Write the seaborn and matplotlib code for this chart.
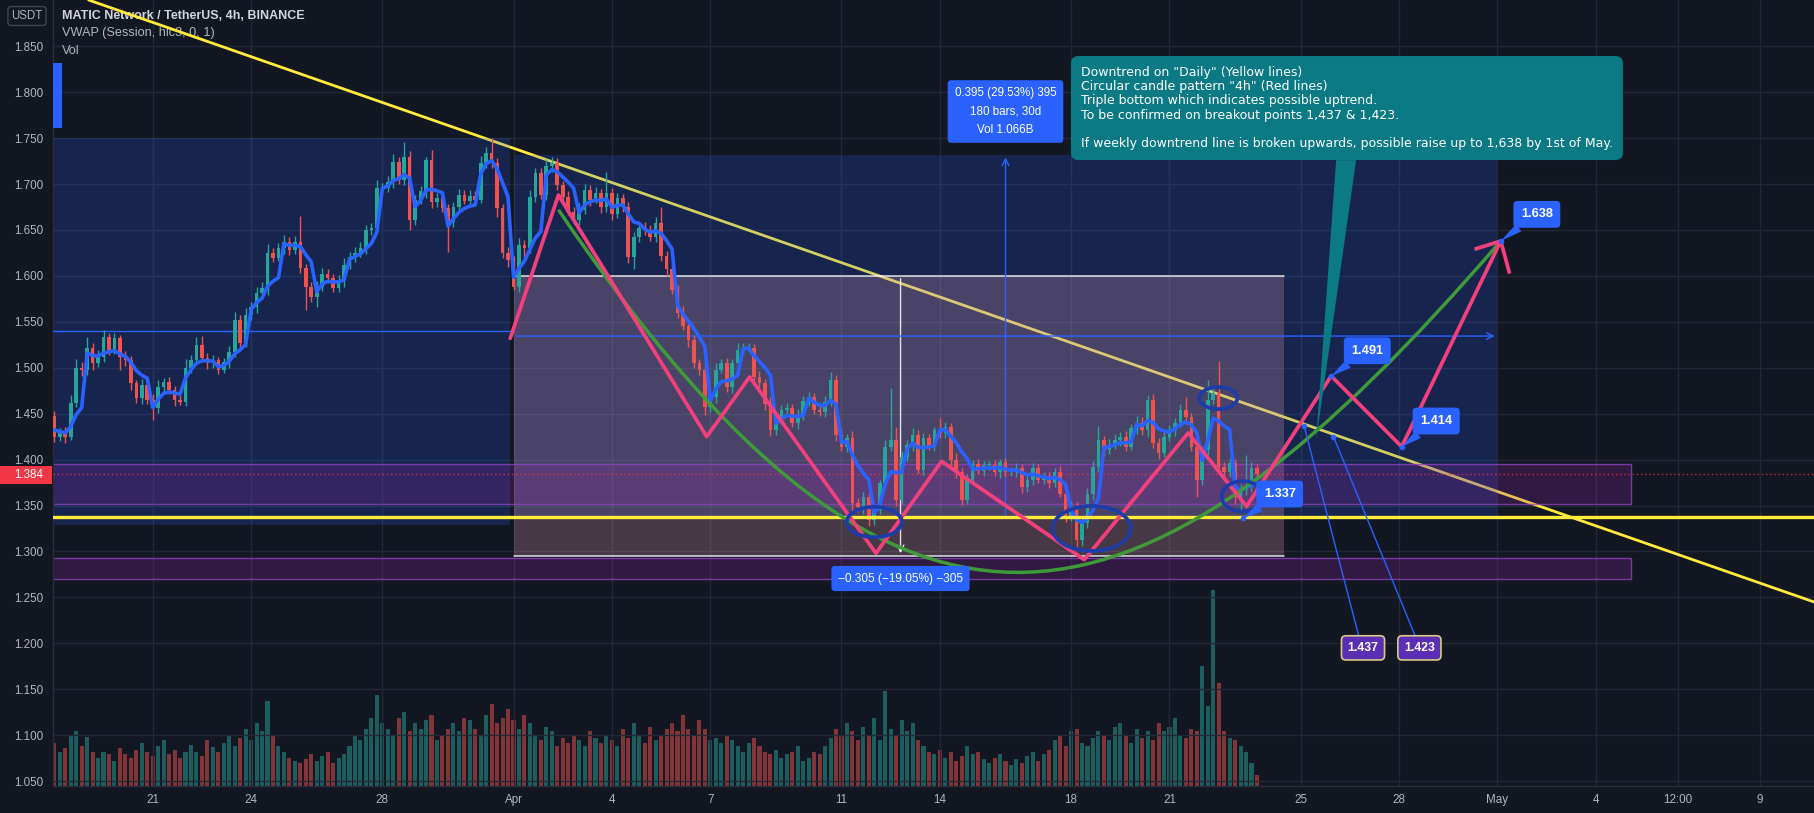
import numpy as np
import pandas as pd
import matplotlib
matplotlib.use("Agg")
import matplotlib.pyplot as plt
import seaborn as sns
from matplotlib.patches import Rectangle, Ellipse, Polygon, PathPatch
from matplotlib.path import Path
from matplotlib.colors import to_rgba

# ---------------- data ----------------
first_day = 17.0      # 18 Mar 00:00 expressed as days since 1 Mar
bar_len = 1 / 6       # 4h candles
first_open = 1.448

closes = [
    # 18 Mar -> 27 Mar
    1.425, 1.430, 1.425, 1.462, 1.500, 1.497, 1.522, 1.505, 1.512, 1.533,
    1.519, 1.532, 1.512, 1.508, 1.483, 1.467, 1.481, 1.465, 1.456, 1.479,
    1.484, 1.476, 1.465, 1.463, 1.500, 1.508, 1.525, 1.511, 1.505, 1.508,
    1.498, 1.506, 1.517, 1.552, 1.527, 1.557, 1.566, 1.581, 1.587, 1.625,
    1.620, 1.630, 1.637, 1.628, 1.637, 1.609, 1.588, 1.577, 1.588, 1.602,
    1.598, 1.587, 1.595, 1.612, 1.621, 1.625, 1.630,
    # 27 Mar -> 6 Apr
    1.650, 1.652, 1.696, 1.696, 1.702, 1.724, 1.704, 1.730, 1.661, 1.683,
    1.692, 1.726, 1.680, 1.685, 1.674, 1.659, 1.675, 1.688, 1.682, 1.687,
    1.683, 1.723, 1.734, 1.723, 1.674, 1.625, 1.617, 1.588, 1.634, 1.630,
    1.686, 1.712, 1.688, 1.720, 1.723, 1.699, 1.686, 1.670, 1.661, 1.672,
    1.694, 1.683, 1.690, 1.675, 1.690, 1.667, 1.685, 1.675, 1.621, 1.642,
    1.652, 1.650, 1.642, 1.658, 1.622, 1.607,
    # 6 Apr -> 15 Apr
    1.585, 1.560, 1.545, 1.530, 1.505, 1.498, 1.457, 1.468, 1.498, 1.505,
    1.479, 1.505, 1.519, 1.521, 1.522, 1.490, 1.483, 1.461, 1.432, 1.443,
    1.454, 1.456, 1.440, 1.448, 1.464, 1.468, 1.454, 1.452, 1.463, 1.487,
    1.427, 1.414, 1.424, 1.353, 1.348, 1.359, 1.334, 1.345, 1.374, 1.414,
    1.421, 1.356, 1.403, 1.416, 1.427, 1.389, 1.423, 1.414, 1.432, 1.429,
    1.435, 1.400, 1.386, 1.356, 1.378,
    # 15 Apr -> 23 Apr
    1.395, 1.388, 1.394, 1.394, 1.386, 1.397, 1.386, 1.386, 1.391, 1.370,
    1.378, 1.391, 1.378, 1.381, 1.375, 1.387, 1.363, 1.338, 1.348, 1.312,
    1.331, 1.363, 1.392, 1.421, 1.410, 1.416, 1.421, 1.425, 1.414, 1.434,
    1.440, 1.432, 1.465, 1.418, 1.407, 1.425, 1.432, 1.440, 1.454, 1.446,
    1.414, 1.378, 1.410, 1.465, 1.472, 1.392, 1.386, 1.396, 1.359, 1.367,
    1.370, 1.391, 1.384,
]

# upper / lower wick lengths in thousandths
wick_up = [
    5, 4, 6, 8, 10, 6, 12, 5, 7, 8, 5, 6, 4, 6, 5, 4, 7, 5, 6, 8,
    5, 6, 4, 5, 9, 6, 8, 10, 5, 6, 4, 5, 7, 9, 5, 8, 6, 7, 6, 10,
    5, 6, 7, 5, 6, 28, 4, 5, 6, 7, 5, 4, 6, 8, 5, 6, 7,
    5, 6, 8, 5, 7, 9, 5, 16, 6, 5, 6, 4, 11, 5, 6, 4, 5, 7, 5, 6,
    5, 8, 6, 16, 5, 4, 6, 5, 7, 5, 8, 6, 5, 7, 6, 5, 4, 6, 5, 7,
    6, 5, 7, 5, 23, 6, 5, 4, 5, 6, 5, 7, 5, 6, 17, 5,
    6, 5, 7, 5, 6, 5, 6, 4, 7, 5, 6, 5, 8, 6, 5, 4, 6, 5, 7, 6,
    5, 6, 4, 7, 5, 6, 5, 4, 6, 8, 5, 6, 4, 7, 5, 6, 5, 6, 4, 7,
    57, 15, 6, 5, 7, 5, 6, 5, 4, 13, 6, 5, 7, 5, 6,
    5, 6, 4, 5, 6, 4, 5, 6, 5, 4, 6, 5, 4, 6, 5, 4, 6, 5, 7, 6,
    5, 6, 7, 16, 5, 6, 7, 5, 6, 5, 7, 6, 5, 6, 5, 7, 6, 5, 6, 14,
    5, 6, 5, 22, 7, 35, 5, 6, 5, 6, 35, 6, 4,
]
wick_dn = [
    6, 5, 7, 4, 5, 6, 5, 8, 4, 6, 5, 4, 15, 6, 7, 5, 6, 4, 13, 5,
    6, 5, 7, 4, 5, 6, 5, 4, 6, 5, 5, 4, 6, 5, 7, 4, 5, 6, 5, 8,
    5, 4, 6, 5, 4, 6, 25, 5, 11, 4, 6, 5, 4, 7, 5, 6, 4,
    6, 5, 4, 7, 5, 6, 4, 5, 11, 6, 5, 7, 6, 5, 4, 33, 6, 5, 4, 6,
    5, 4, 6, 5, 10, 6, 7, 3, 5, 9, 5, 6, 4, 5, 7, 5, 6, 4, 5, 6,
    5, 7, 4, 6, 5, 6, 4, 5, 7, 14, 5, 6, 4, 5, 6, 7,
    5, 6, 4, 7, 5, 6, 8, 5, 6, 4, 5, 7, 6, 5, 4, 6, 5, 7, 6, 5,
    4, 6, 5, 7, 5, 6, 4, 5, 6, 5, 7, 5, 6, 10, 5, 7, 6, 5, 4, 6,
    5, 6, 4, 5, 7, 5, 6, 4, 5, 6, 5, 7, 6, 5, 4,
    5, 4, 6, 5, 4, 6, 5, 4, 5, 6, 5, 6, 4, 5, 6, 5, 4, 6, 5, 7,
    6, 5, 7, 5, 6, 4, 5, 6, 5, 4, 6, 5, 7, 5, 6, 4, 5, 6, 5, 7,
    5, 19, 6, 5, 4, 5, 6, 5, 7, 16, 6, 5, 4,
]

# volume bar heights (arbitrary units)
volume = [
    38, 30, 33, 45, 48, 35, 43, 30, 25, 30, 28, 22, 33, 28, 25, 32, 38, 30, 26, 35, 40,
    28, 32, 25, 30, 36, 30, 26, 40, 34, 30, 38, 45, 35, 42, 50, 40, 55, 48, 75, 45,
    35, 30, 25, 22, 20, 24, 28, 22, 26, 30, 20, 25, 28, 35, 45, 40, 50, 60, 80, 55,
    50, 45, 60, 65, 48, 55, 50, 58, 62, 40, 45, 50, 55, 48, 60, 58, 50, 45, 62, 72,
    55, 60, 68, 58, 50, 62, 55, 45, 40, 52, 48, 35, 42, 38, 45, 40, 35, 48, 42, 38,
    45, 40, 35, 50, 42, 55, 45, 38, 52, 40, 45, 50, 55, 48, 62, 50, 45, 58, 50, 40,
    42, 38, 45, 40, 35, 30, 38, 42, 35, 30, 28, 32, 25, 28, 30, 35, 22, 25, 30, 28,
    35, 42, 50, 45, 55, 48, 40, 52, 45, 60, 40, 83, 50, 45, 58, 48, 55, 40, 35, 30,
    28, 32, 25, 30, 22, 26, 35, 28, 30, 24, 20, 25, 28, 22, 18, 24, 20, 26, 30, 22,
    28, 32, 40, 45, 35, 48, 50, 38, 35, 42, 48, 45, 40, 52, 55, 45, 38, 50, 42, 48,
    40, 55, 48, 52, 60, 45, 42, 50, 48, 105, 70, 172, 90, 48, 42, 40, 35, 30, 20, 10,
]

price_ticks = [1.05, 1.10, 1.15, 1.20, 1.25, 1.30, 1.35, 1.40, 1.45, 1.50,
               1.55, 1.60, 1.65, 1.70, 1.75, 1.80, 1.85]
date_ticks = [20, 23, 27, 31, 34, 37, 41, 44, 48, 51, 55, 58, 61, 64, 66.5, 69]
date_labels = ["21", "24", "28", "Apr", "4", "7", "11", "14", "18", "21",
               "25", "28", "May", "4", "12:00", "9"]

last_price = 1.384
hline_yellow = 1.337
trend_pts = [(30.92, 1.740), (70.65, 1.245)]
zz_day = [30.9, 32.37, 36.89, 38.2, 42.05, 44.05, 48.4, 51.57, 53.35, 55.93, 58.08, 61.1]
zz_price = [1.532, 1.688, 1.425, 1.490, 1.298, 1.398, 1.291, 1.429, 1.349, 1.491, 1.414, 1.638]
arrow_wings = [(60.3, 1.629), (61.37, 1.6025)]
arc_ctrl = [(32.37, 1.672), (43.0, 1.112), (50.3, 1.191), (61.1, 1.638)]
circles = [(42.0, 1.332, 1.68, 0.033), (48.63, 1.325, 2.38, 0.049),
           (52.49, 1.467, 1.16, 0.024), (53.23, 1.360, 1.28, 0.033)]
zones = [(1.352, 1.395), (1.270, 1.293)]
measure_up = dict(x0=31.0, x1=61.0, y0=1.337, y1=1.732)
measure_old = dict(x0=15.0, x1=30.9, y0=1.329, y1=1.750)
measure_dn = dict(x0=31.0, x1=54.5, y0=1.295, y1=1.600, xc=42.8)
point_labels = [("1.491", (55.93, 1.491), (57.03, 1.5185)),
                ("1.414", (58.08, 1.414), (59.13, 1.442)),
                ("1.638", (61.1, 1.638), (62.2, 1.667)),
                ("1.337", (53.25, 1.336), (54.36, 1.3625))]
break_labels = [("1.437", (55.1, 1.437), (56.9, 1.195)),
                ("1.423", (56.0, 1.425), (58.62, 1.195))]
callout = ('Downtrend on "Daily" (Yellow lines)\n'
           'Circular candle pattern "4h" (Red lines)\n'
           'Triple bottom which indicates possible uptrend.\n'
           'To be confirmed on breakout points 1,437 & 1,423.\n\n'
           'If weekly downtrend line is broken upwards, possible raise up to 1,638 by 1st of May.')

# ---------------- derived series ----------------
n = len(closes)
t = first_day + np.arange(n) * bar_len
c = np.array(closes)
o = np.r_[first_open, c[:-1]]
hi = np.maximum(o, c) + np.array(wick_up) / 1000
lo = np.minimum(o, c) - np.array(wick_dn) / 1000
vol = np.array(volume, float)
up = c >= o
df = pd.DataFrame(dict(t=t, o=o, h=hi, l=lo, c=c, v=vol))
df["session"] = np.floor(df.t + 1e-6)
df["pv"] = (df.h + df.l + df.c) / 3 * df.v
df["vwap"] = df.groupby("session").pv.cumsum() / df.groupby("session").v.cumsum()

# ---------------- style ----------------
BG = "#131722"
GRID = "#232836"
TXT = "#b2b5be"
UP = "#26a69a"
DN = "#ef5350"
BLUE = "#2962ff"
PINK = "#f2407c"
GREEN = "#3f9a3a"
YEL = "#ffeb3b"

sns.set_theme(style="dark")
plt.rcParams["font.family"] = ["Liberation Sans", "DejaVu Sans"]

fig = plt.figure(figsize=(18.14, 8.13), dpi=100)
fig.patch.set_facecolor(BG)
pos = [53 / 1814, 27 / 813, 1761 / 1814, 786 / 813]
axv = fig.add_axes(pos)
axv.set_facecolor(BG)
ax = fig.add_axes(pos, sharex=axv)
ax.patch.set_alpha(0)

ax.set_xlim(16.96, 70.65)
ax.set_ylim(1.0446, 1.9004)
axv.set_ylim(0, 690)
axv.set_yticks([])
axv.tick_params(bottom=False, labelbottom=False, left=False)
for s in axv.spines.values():
    s.set_visible(False)

# grid
for p in price_ticks:
    ax.axhline(p, color=GRID, lw=1, zorder=0.5)
for d in date_ticks:
    ax.axvline(d, color=GRID, lw=1, zorder=0.5)

# volume
vcols = [to_rgba(UP, 0.5) if u else to_rgba(DN, 0.5) for u in up]
axv.bar(t, vol, width=0.125, color=vcols, linewidth=0)

# yellow weekly trend line (under the measure boxes)
ax.axline(trend_pts[0], trend_pts[1], color=YEL, lw=2.0, zorder=1.5)

# measure boxes
ax.add_patch(Rectangle((measure_old["x0"], measure_old["y0"]), measure_old["x1"] - measure_old["x0"],
                       measure_old["y1"] - measure_old["y0"], fc=BLUE, alpha=0.2, lw=0, zorder=2))
ax.add_patch(Rectangle((measure_up["x0"], measure_up["y0"]), measure_up["x1"] - measure_up["x0"],
                       measure_up["y1"] - measure_up["y0"], fc=BLUE, alpha=0.2, lw=0, zorder=2))
ax.add_patch(Rectangle((measure_dn["x0"], measure_dn["y0"]), measure_dn["x1"] - measure_dn["x0"],
                       measure_dn["y1"] - measure_dn["y0"], fc="#ffb0c0", alpha=0.22, lw=0, zorder=2.1))
for yy in (measure_dn["y0"], measure_dn["y1"]):
    ax.plot([measure_dn["x0"], measure_dn["x1"]], [yy, yy], color="white", lw=1.1, alpha=0.85, zorder=3)
ax.annotate("", xy=(measure_dn["xc"], measure_dn["y0"]), xytext=(measure_dn["xc"], measure_dn["y1"]),
            arrowprops=dict(arrowstyle="->", color="white", lw=1.0, alpha=0.85), zorder=3)
xm = (measure_up["x0"] + measure_up["x1"]) / 2
ym = (measure_up["y0"] + measure_up["y1"]) / 2
ax.annotate("", xy=(xm, measure_up["y1"]), xytext=(xm, measure_up["y0"]),
            arrowprops=dict(arrowstyle="->", color=BLUE, lw=1.0), zorder=3)
ax.annotate("", xy=(measure_up["x1"], ym), xytext=(measure_up["x0"], ym),
            arrowprops=dict(arrowstyle="->", color=BLUE, lw=1.0), zorder=3)
ax.plot([16.96, measure_old["x1"]], [(measure_old["y0"] + measure_old["y1"]) / 2] * 2,
        color=BLUE, lw=1.0, zorder=3)
ax.add_patch(Rectangle((16.5, 1.761), 0.73, 0.071, fc=BLUE, lw=0, zorder=3))

# purple zones
for z0, z1 in zones:
    ax.add_patch(Rectangle((15.0, z0), 65.07 - 15.0, z1 - z0, fc="#9c27b0", alpha=0.22, lw=0, zorder=2.2))
    ax.add_patch(Rectangle((15.0, z0), 65.07 - 15.0, z1 - z0, fill=False, ec="#8e44c0", lw=1.0, alpha=0.8, zorder=2.3))

# last price dotted line
ax.axhline(last_price, color="#f23645", lw=1.0, ls=(0, (1, 2)), alpha=0.8, zorder=3)

# candles
cols = np.where(up, UP, DN)
ax.vlines(t, lo, hi, colors=cols, lw=1.0, zorder=4)
ax.bar(t, np.maximum(np.abs(c - o), 0.0012), bottom=np.minimum(o, c), width=0.11,
       color=cols, linewidth=0, zorder=5)

# VWAP
sns.lineplot(data=df, x="t", y="vwap", ax=ax, color=BLUE, lw=2.6, sort=False,
             estimator=None, zorder=6)

# horizontal yellow support
ax.axhline(hline_yellow, color=YEL, lw=2.4, zorder=6.5)

# green arc
arc = Path(arc_ctrl, [Path.MOVETO, Path.CURVE4, Path.CURVE4, Path.CURVE4])
ax.add_patch(PathPatch(arc, fill=False, ec=GREEN, lw=2.5, zorder=7))

# pink zigzag
zz = pd.DataFrame(dict(d=zz_day, p=zz_price))
sns.lineplot(data=zz, x="d", y="p", ax=ax, color=PINK, lw=2.7, sort=False,
             estimator=None, zorder=7.5)
for wx, wy in arrow_wings:
    ax.plot([zz_day[-1], wx], [zz_price[-1], wy], color=PINK, lw=2.7,
            solid_capstyle="butt", zorder=7.5)

# circles
for cx, cy, w, h in circles:
    ax.add_patch(Ellipse((cx, cy), w, h, fill=False, ec="#1d3ca8", lw=2.7, zorder=8))

# breakout helper lines & labels
for txt, pt, ctr in break_labels:
    ax.plot([pt[0], ctr[0] - 0.13], [pt[1], ctr[1] + 0.013], color=BLUE, lw=1.0, zorder=8)
    ax.plot(*pt, "o", ms=3, color=BLUE, zorder=8)
    ax.text(ctr[0], ctr[1], txt, ha="center", va="center", color="white", fontsize=8.8,
            fontweight="bold", zorder=10,
            bbox=dict(boxstyle="round,pad=0.5,rounding_size=0.35", fc="#5a2fb4", ec="#d9c98a", lw=1.2))

# teal callout wedge + box
ax.add_patch(Polygon([(56.08, 1.726), (56.69, 1.726), (55.47, 1.421)], closed=True,
                     fc="#0b7a84", ec="none", zorder=8.5))
ax.text(48.3, 1.8285, callout, ha="left", va="top", color="white", fontsize=9.0,
        family=["DejaVu Sans"], linespacing=1.12, zorder=9,
        bbox=dict(boxstyle="round,pad=0.8,rounding_size=0.6", fc="#0b7a84", ec="none"))

# blue point labels
for txt, pt, ctr in point_labels:
    ax.plot(*pt, "o", ms=3, color=BLUE, zorder=9)
    ax.annotate(txt, xy=pt, xytext=ctr, ha="center", va="center", color="white",
                fontsize=9.2, fontweight="bold", zorder=10,
                bbox=dict(boxstyle="round,pad=0.58,rounding_size=0.3", fc=BLUE, ec="none"),
                arrowprops=dict(arrowstyle="wedge,tail_width=0.7,shrink_factor=0.5",
                                fc=BLUE, ec="none", shrinkA=0, shrinkB=0))

# measure labels
ax.text(xm, 1.779, "0.395 (29.53%) 395\n180 bars, 30d\nVol 1.066B", ha="center", va="center",
        multialignment="center", color="white", fontsize=8.4, linespacing=1.7, zorder=10,
        bbox=dict(boxstyle="round,pad=0.6,rounding_size=0.3", fc=BLUE, ec="none"))
ax.text(measure_dn["xc"], 1.2705, "\u22120.305 (\u221219.05%) \u2212305", ha="center", va="center",
        color="white", fontsize=8.6, zorder=10,
        bbox=dict(boxstyle="round,pad=0.55,rounding_size=0.3", fc=BLUE, ec="none"))

# header
ax.text(61.7 / 1814, 1 - 16 / 813, "MATIC Network / TetherUS, 4h, BINANCE", transform=fig.transFigure,
        ha="left", va="center", color="#d1d4dc", fontsize=9.0, fontweight="bold", zorder=1)
ax.text(61.7 / 1814, 1 - 33 / 813, "VWAP (Session, hlc3, 0, 1)", transform=fig.transFigure,
        ha="left", va="center", color=TXT, fontsize=9.2, zorder=1)
ax.text(61.7 / 1814, 1 - 50.5 / 813, "Vol", transform=fig.transFigure,
        ha="left", va="center", color=TXT, fontsize=9.2, zorder=1)
fig.text(27 / 1814, 1 - 16 / 813, "USDT", ha="center", va="center", color=TXT, fontsize=8.3,
         bbox=dict(boxstyle="round,pad=0.3,rounding_size=0.3", fc=BG, ec="#434651", lw=1))

# axes / ticks
ax.set_xticks(date_ticks, date_labels)
ax.set_yticks(price_ticks, [f"{p:.3f}" for p in price_ticks])
ax.tick_params(axis="both", length=0, colors=TXT, labelsize=8.4)
ax.tick_params(axis="y", pad=7.2)
ax.tick_params(axis="x", pad=6)
ax.set_xlabel("")
ax.set_ylabel("")
for k, s in ax.spines.items():
    s.set_visible(k in ("left", "bottom"))
    s.set_color("#2a2e39")
    s.set_linewidth(1)

# last price tag on the axis
fig.add_artist(Rectangle((0, 1 - 484 / 813), 52 / 1814, 18 / 813, transform=fig.transFigure,
                         fc="#f23645", ec="none", zorder=5))
fig.text(43 / 1814, 1 - 475 / 813, f"{last_price:.3f}", ha="right", va="center", color="white",
         fontsize=8.4, zorder=6)

fig.savefig("out.png", dpi=100, facecolor=BG)
